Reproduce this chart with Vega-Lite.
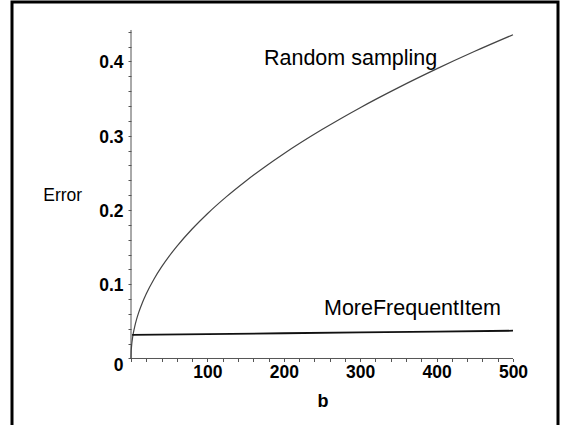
{
  "$schema": "https://vega.github.io/schema/vega-lite/v6.json",
  "width": 546,
  "height": 430,
  "autosize": {"type": "none"},
  "padding": {"left": 12, "top": 2, "right": 3, "bottom": 0},
  "background": "white",
  "config": {
    "view": {"stroke": "black", "strokeWidth": 3},
    "font": "Liberation Sans"
  },
  "encoding": {
    "x": {
      "field": "b",
      "type": "quantitative",
      "scale": {"domain": [-155.76, 558.9], "nice": false, "zero": false},
      "axis": {
        "title": "b",
        "values": [0, 20, 40, 60, 80, 100, 120, 140, 160, 180, 200, 220, 240, 260, 280, 300, 320, 340, 360, 380, 400, 420, 440, 460, 480, 500],
        "labelExpr": "datum.value > 0 && datum.value % 100 == 0 ? datum.label : ''",
        "domain": false,
        "grid": false,
        "offset": -73.5,
        "tickSize": 3,
        "tickColor": "#555",
        "tickWidth": 1,
        "labelOverlap": false,
        "labelBound": false,
        "labelFlush": false,
        "labelFontSize": 17.5,
        "labelFontWeight": "bold",
        "labelColor": "black",
        "labelPadding": 2,
        "titleFontSize": 18,
        "titleFontWeight": "bold",
        "titleColor": "black",
        "titleX": 310.5,
        "titleY": 47.5,
        "titleAlign": "center",
        "titleBaseline": "alphabetic"
      }
    },
    "y": {
      "field": "err",
      "type": "quantitative",
      "scale": {"domain": [-0.099, 0.4801], "nice": false, "zero": false},
      "axis": {
        "title": "Error",
        "values": [0, 0.02, 0.04, 0.06, 0.08, 0.1, 0.12, 0.14, 0.16, 0.18, 0.2, 0.22, 0.24, 0.26, 0.28, 0.3, 0.32, 0.34, 0.36, 0.38, 0.4, 0.42, 0.44],
        "labelExpr": "indexof([0, 0.1, 0.2, 0.3, 0.4], datum.value) >= 0 ? (datum.value == 0 ? '0' : format(datum.value, '.1f')) : ''",
        "domain": false,
        "grid": false,
        "offset": -119,
        "tickSize": 3,
        "tickColor": "#555",
        "tickWidth": 1,
        "labelOverlap": false,
        "labelBound": false,
        "labelFlush": false,
        "labelFontSize": 17.5,
        "labelFontWeight": "bold",
        "labelColor": "black",
        "labelPadding": 5,
        "labelOffset": {"condition": {"test": "datum.value == 0", "value": 7.5}, "value": 1.5},
        "titleFontSize": 17.5,
        "titleFontWeight": "normal",
        "titleColor": "black",
        "titleAngle": 0,
        "titleX": -68.8,
        "titleY": 198.7,
        "titleAlign": "center",
        "titleBaseline": "alphabetic"
      }
    }
  },
  "layer": [
    {
      "data": {"values": [
        {"b": 0, "err": 0, "b2": 0, "err2": 0.4424},
        {"b": 0, "err": 0, "b2": 500, "err2": 0}
      ]},
      "mark": {"type": "rule", "color": "#555", "strokeWidth": 1},
      "encoding": {
        "x2": {"field": "b2"},
        "y2": {"field": "err2"}
      }
    },
    {
      "data": {"values": [
        {"b": 0, "err": 0},
        {"b": 0.2, "err": 0.0087},
        {"b": 0.5, "err": 0.0138},
        {"b": 1, "err": 0.0195},
        {"b": 2, "err": 0.0276},
        {"b": 3, "err": 0.0338},
        {"b": 5, "err": 0.0436},
        {"b": 7, "err": 0.0516},
        {"b": 10, "err": 0.0617},
        {"b": 15, "err": 0.0755},
        {"b": 20, "err": 0.0872},
        {"b": 30, "err": 0.1068},
        {"b": 40, "err": 0.1233},
        {"b": 50, "err": 0.1379},
        {"b": 60, "err": 0.151},
        {"b": 80, "err": 0.1744},
        {"b": 100, "err": 0.195},
        {"b": 125, "err": 0.218},
        {"b": 150, "err": 0.2388},
        {"b": 175, "err": 0.258},
        {"b": 200, "err": 0.2758},
        {"b": 250, "err": 0.3083},
        {"b": 300, "err": 0.3378},
        {"b": 350, "err": 0.3648},
        {"b": 400, "err": 0.39},
        {"b": 450, "err": 0.4137},
        {"b": 500, "err": 0.436}
      ]},
      "mark": {"type": "line", "color": "#444", "strokeWidth": 1.2, "interpolate": "monotone"},
      "encoding": {}
    },
    {
      "data": {"values": [
        {"b": 1.5, "err": 0.0317},
        {"b": 100, "err": 0.0328},
        {"b": 200, "err": 0.034},
        {"b": 300, "err": 0.0351},
        {"b": 400, "err": 0.0362},
        {"b": 500, "err": 0.0374}
      ]},
      "mark": {"type": "line", "color": "#111", "strokeWidth": 1.8},
      "encoding": {}
    },
    {
      "data": {"values": [
        {"b": 174, "err": 0.3953, "label": "Random sampling"},
        {"b": 252.6, "err": 0.0586, "label": "MoreFrequentItem"}
      ]},
      "mark": {"type": "text", "align": "left", "baseline": "alphabetic", "fontSize": 21.5, "color": "black", "font": "Liberation Sans"},
      "encoding": {
        "text": {"field": "label"}
      }
    }
  ]
}
